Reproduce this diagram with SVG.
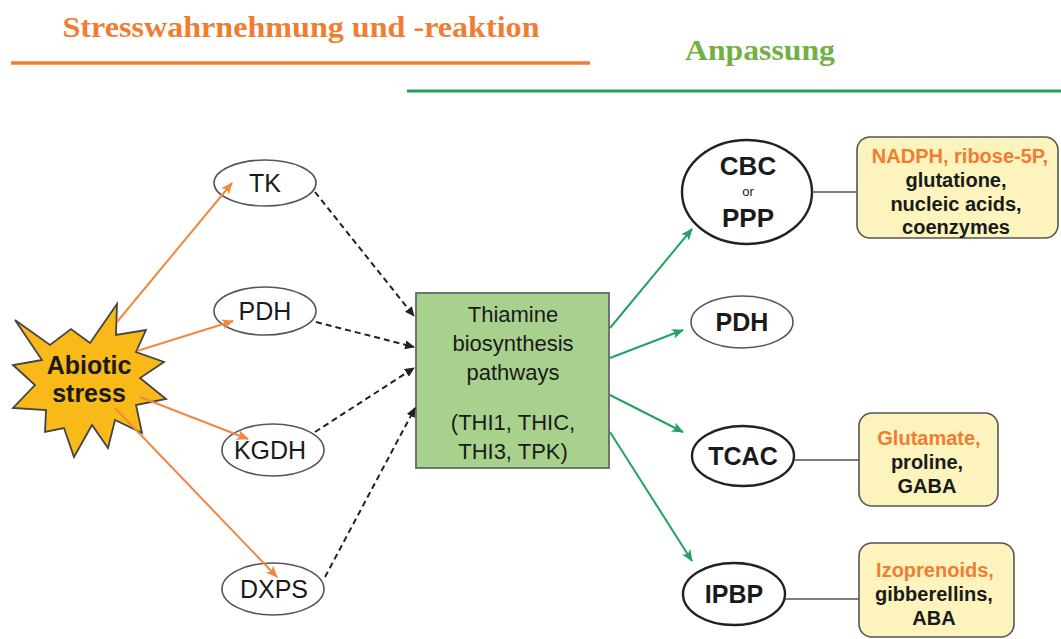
<svg xmlns="http://www.w3.org/2000/svg" width="1061" height="639" viewBox="0 0 1061 639">
<defs>
<style>
.t{font-family:"Liberation Sans",Arial,sans-serif;text-anchor:middle;fill:#1a1a1a}
.b{font-weight:bold}
.o{fill:#f07d32}
.el{fill:#fff;stroke:#555;stroke-width:1.6}
.elk{fill:#fff;stroke:#222;stroke-width:2.4}
.box{fill:#fcf3bd;stroke:#555;stroke-width:1.6}
.ao{stroke:#f0883e;stroke-width:2;fill:none;marker-end:url(#mo)}
.ag{stroke:#22a262;stroke-width:2;fill:none;marker-end:url(#mg)}
.ad{stroke:#222;stroke-width:2;stroke-dasharray:6 4;fill:none;marker-end:url(#mk)}
.ln{stroke:#555;stroke-width:1.6;fill:none}
</style>
<marker id="mo" markerUnits="userSpaceOnUse" markerWidth="12" markerHeight="10" refX="11" refY="5" orient="auto"><path d="M0,0 L12,5 L0,10 L3,5 z" fill="#f0883e"/></marker>
<marker id="mg" markerUnits="userSpaceOnUse" markerWidth="12" markerHeight="10" refX="11" refY="5" orient="auto"><path d="M0,0 L12,5 L0,10 L3,5 z" fill="#22a262"/></marker>
<marker id="mk" markerUnits="userSpaceOnUse" markerWidth="10" markerHeight="9" refX="9" refY="4.5" orient="auto"><path d="M0,0 L10,4.5 L0,9 z" fill="#222"/></marker>
</defs>
<rect width="1061" height="639" fill="#fff"/>
<g id="header">
<text x="301" y="37" font-family="Liberation Serif,Times New Roman,serif" font-weight="bold" font-size="30" fill="#f07d32" text-anchor="middle" textLength="477" lengthAdjust="spacingAndGlyphs">Stresswahrnehmung und -reaktion</text>
<line x1="11" y1="63" x2="590" y2="63" stroke="#f07d32" stroke-width="3.5"/>
<text x="760" y="60" font-family="Liberation Serif,Times New Roman,serif" font-weight="bold" font-size="30" fill="#72b043" text-anchor="middle" textLength="150" lengthAdjust="spacingAndGlyphs">Anpassung</text>
<line x1="407" y1="91" x2="1061" y2="91" stroke="#1fa05a" stroke-width="3"/>
</g>
<g id="abiotic">
<polygon points="15,320 50,345 71,329 90,343 117,304 116,335 146,330 136,352 164,362 140,378 166,399 136,405 142,433 115,420 108,448 92,425 74,457 64,428 45,432 46,410 13,408 35,385 13,365 42,360" fill="#f9b919" stroke="#444" stroke-width="1.8" stroke-linejoin="miter"/>
<text class="t b" x="89" y="374" font-size="25">Abiotic</text>
<text class="t b" x="89" y="402" font-size="25">stress</text>
</g>
<g id="tk"><ellipse class="el" cx="265" cy="183" rx="51" ry="23"/><text class="t" x="265" y="192" font-size="25">TK</text></g>
<g id="pdh1"><ellipse class="el" cx="265" cy="311" rx="51" ry="24"/><text class="t" x="265" y="320" font-size="25">PDH</text></g>
<g id="kgdh"><ellipse class="el" cx="273" cy="450" rx="51" ry="26"/><text class="t" x="270" y="459" font-size="25">KGDH</text></g>
<g id="dxps"><ellipse class="el" cx="273" cy="589" rx="51" ry="26"/><text class="t" x="274" y="598" font-size="25">DXPS</text></g>
<g id="thiamine">
<rect x="416" y="293" width="193" height="175" fill="#a9d18e" stroke="#666" stroke-width="1.8"/>
<text class="t" x="513" y="322" font-size="22">Thiamine</text>
<text class="t" x="513" y="351" font-size="22">biosynthesis</text>
<text class="t" x="513" y="380" font-size="22">pathways</text>
<text class="t" x="513" y="430" font-size="22">(THI1, THIC,</text>
<text class="t" x="513" y="459" font-size="22">THI3, TPK)</text>
</g>
<g id="cbc">
<ellipse class="elk" cx="747" cy="192" rx="65" ry="52"/>
<text class="t b" x="748" y="175" font-size="26">CBC</text>
<text class="t" x="748" y="196" font-size="13">or</text>
<text class="t b" x="748" y="227" font-size="26">PPP</text>
</g>
<g id="pdh2"><ellipse class="el" cx="742" cy="322" rx="51" ry="26"/><text class="t b" x="742" y="331" font-size="25">PDH</text></g>
<g id="tcac"><ellipse class="elk" cx="743" cy="456" rx="51" ry="30"/><text class="t b" x="743" y="465" font-size="25">TCAC</text></g>
<g id="ipbp"><ellipse class="elk" cx="734" cy="594" rx="51" ry="31"/><text class="t b" x="734" y="603" font-size="25">IPBP</text></g>
<g id="box1">
<rect class="box" x="857" y="137" width="201" height="101" rx="13"/>
<text class="t b o" x="960" y="163" font-size="20">NADPH, ribose-5P,</text>
<text class="t b" x="956" y="187" font-size="20">glutatione,</text>
<text class="t b" x="956" y="211" font-size="20">nucleic acids,</text>
<text class="t b" x="956" y="234" font-size="20">coenzymes</text>
</g>
<g id="box2">
<rect class="box" x="859" y="413" width="139" height="93" rx="13"/>
<text class="t b o" x="929" y="445" font-size="20">Glutamate,</text>
<text class="t b" x="927" y="469" font-size="20">proline,</text>
<text class="t b" x="927" y="493" font-size="20">GABA</text>
</g>
<g id="box3">
<rect class="box" x="859" y="543" width="155" height="94" rx="13"/>
<text class="t b o" x="935" y="577" font-size="20">Izoprenoids,</text>
<text class="t b" x="934" y="601" font-size="20">gibberellins,</text>
<text class="t b" x="934" y="625" font-size="20">ABA</text>
</g>
<g id="connectors">
<line class="ao" x1="117" y1="322" x2="232" y2="183"/>
<line class="ao" x1="137" y1="351" x2="233" y2="321"/>
<line class="ao" x1="140" y1="397" x2="248" y2="439"/>
<line class="ao" x1="115" y1="408" x2="277" y2="577"/>
<line class="ad" x1="315" y1="192" x2="414" y2="316"/>
<line class="ad" x1="316" y1="322" x2="414" y2="347"/>
<line class="ad" x1="315" y1="432" x2="414" y2="368"/>
<line class="ad" x1="325" y1="577" x2="415" y2="408"/>
<line class="ag" x1="610" y1="328" x2="692" y2="229"/>
<line class="ag" x1="610" y1="358" x2="683" y2="330"/>
<line class="ag" x1="610" y1="395" x2="683" y2="432"/>
<line class="ag" x1="610" y1="432" x2="692" y2="561"/>
<line class="ln" x1="812" y1="192" x2="857" y2="192"/>
<line class="ln" x1="795" y1="460" x2="859" y2="460"/>
<line class="ln" x1="785" y1="599" x2="859" y2="599"/>
</g>
</svg>
